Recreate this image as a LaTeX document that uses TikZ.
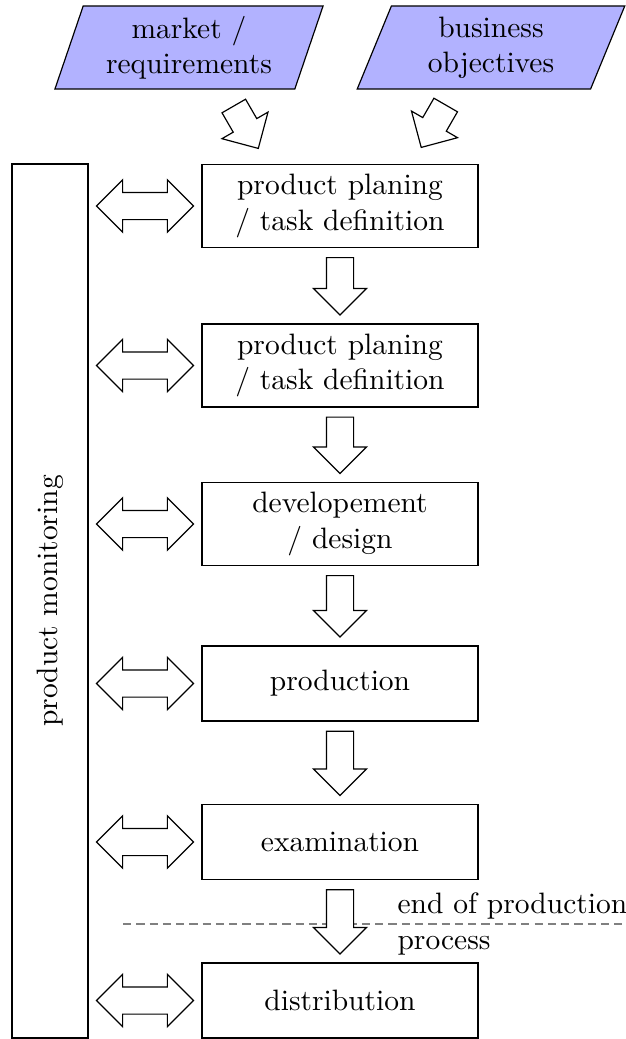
\documentclass[tikz,border=0pt]{standalone}
\usetikzlibrary{shapes.geometric,shapes.arrows,calc}
\begin{document}
\begin{tikzpicture}[x=0.339pt, y=-0.339pt,
  box/.style={draw, minimum width=93.56pt, minimum height=25.43pt, align=center, inner sep=3.33pt},
  para/.style={trapezium, trapezium left angle=70.7, trapezium right angle=109.3, trapezium stretches=true, draw, fill=blue!30, minimum width=91.19pt, minimum height=28.14pt, align=center, inner sep=0pt},
  fatarrow/.style={single arrow, draw, fill=white, inner xsep=0pt, inner ysep=4.407pt, single arrow head extend=4.407pt, minimum width=0pt, anchor=tail},
  dblarrow/.style={double arrow, draw, fill=white, inner xsep=0pt, inner ysep=4.407pt, double arrow head extend=4.24pt, minimum width=0pt, minimum height=32.88pt},
  monbox/.style={draw, rotate=90, minimum width=296.3pt, minimum height=25.76pt},
  sepline/.style={gray, dash pattern=on 2.8pt off 1.7pt},
]
\useasboundingbox (0,0) rectangle (626,1039);
% inputs
\node[para] (mr) at (189,47.5) {market /\\requirements};
\node[para] (bo) at (491,47.5) {business\\objectives};
% process boxes
\node[box] (b1) at (340,206) {product planing\\/ task definition};
\node[box] (b2) at (340,365.5) {product planing\\/ task definition};
\node[box] (b3) at (340,524) {developement\\/ design};
\node[box] (b4) at (340,683.5) {production};
\node[box] (b5) at (340,842) {examination};
\node[box] (b6) at (340,1000.5) {distribution};
% monitoring
\node[monbox] (mon) at (50,601) {product monitoring};
% end of production line
\coordinate (dl) at (123,924);
\coordinate (dr) at (626,924);
\draw[sepline] (dl) -- (dr);
\node[anchor=west, align=left, inner sep=0pt] (eop) at (397,924) {end of production\\process};
% input arrows
\node[fatarrow, rotate=-60, minimum height=16.6pt] (a1) at (233.5,105.5) {};
\node[fatarrow, rotate=-120, minimum height=16.6pt] (a2) at (446,104.5) {};
% flow arrows
\foreach \a/\b in {b1/b2,b2/b3,b3/b4,b4/b5,b5/b6}
  \path let \p1=(\a.south), \p2=(\b.north), \n1={veclen(\x2-\x1,\y2-\y1)-6.1pt} in
    node[fatarrow, rotate=-90, minimum height=\n1] at ($(\a.south)+(0,9)$) {};
% monitoring arrows
\foreach \b in {b1,b2,b3,b4,b5,b6}
  \path (mon.south |- \b.west) -- node[dblarrow] {} (\b.west);
\end{tikzpicture}
\end{document}
